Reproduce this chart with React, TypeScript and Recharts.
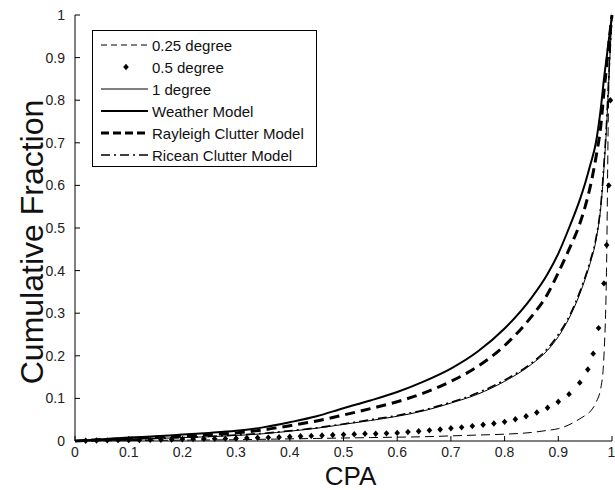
import { LineChart, Line, XAxis, YAxis, Legend, Label } from 'recharts'

// CPA grid shared by the line series
const cpa = [0, 0.05, 0.1, 0.15, 0.2, 0.25, 0.3, 0.35, 0.4, 0.45, 0.5, 0.55, 0.6, 0.65, 0.7, 0.75, 0.8, 0.85, 0.88, 0.9, 0.92, 0.94, 0.95, 0.96, 0.97, 0.98, 0.985, 0.99, 0.993, 0.996, 1]

const quarterDeg = [0, 0.0005, 0.001, 0.0015, 0.002, 0.0025, 0.003, 0.004, 0.005, 0.006, 0.007, 0.008, 0.009, 0.01, 0.012, 0.014, 0.016, 0.02, 0.025, 0.029, 0.038, 0.052, 0.06, 0.07, 0.09, 0.13, 0.2, 0.42, 0.75, 0.93, 1]
const oneDeg = [0, 0.002, 0.004, 0.006, 0.008, 0.01, 0.013, 0.017, 0.023, 0.03, 0.039, 0.048, 0.058, 0.071, 0.089, 0.11, 0.14, 0.18, 0.213, 0.245, 0.288, 0.345, 0.38, 0.42, 0.47, 0.56, 0.64, 0.74, 0.82, 0.9, 1]
const weather = [0, 0.004, 0.008, 0.011, 0.015, 0.019, 0.024, 0.032, 0.044, 0.058, 0.077, 0.095, 0.115, 0.14, 0.17, 0.21, 0.264, 0.336, 0.392, 0.44, 0.5, 0.566, 0.605, 0.65, 0.7, 0.79, 0.85, 0.9, 0.93, 0.96, 1]
const rayleigh = [0, 0.003, 0.006, 0.009, 0.012, 0.015, 0.019, 0.026, 0.036, 0.047, 0.061, 0.076, 0.092, 0.113, 0.14, 0.175, 0.224, 0.292, 0.345, 0.395, 0.45, 0.51, 0.55, 0.6, 0.665, 0.75, 0.82, 0.88, 0.92, 0.955, 1]
const ricean = [0, 0.002, 0.004, 0.006, 0.008, 0.011, 0.014, 0.018, 0.024, 0.031, 0.04, 0.05, 0.06, 0.073, 0.091, 0.113, 0.143, 0.183, 0.217, 0.25, 0.292, 0.35, 0.385, 0.425, 0.475, 0.565, 0.65, 0.75, 0.83, 0.905, 1]

// 0.5 degree is drawn as markers only, on its own points
const halfDegCpa = [0.02, 0.04, 0.06, 0.08, 0.1, 0.12, 0.14, 0.16, 0.18, 0.2, 0.22, 0.24, 0.26, 0.28, 0.3, 0.32, 0.34, 0.36, 0.38, 0.4, 0.42, 0.44, 0.46, 0.48, 0.5, 0.52, 0.54, 0.56, 0.58, 0.6, 0.62, 0.64, 0.66, 0.68, 0.7, 0.72, 0.74, 0.76, 0.78, 0.8, 0.82, 0.84, 0.86, 0.88, 0.9, 0.92, 0.94, 0.955, 0.965, 0.975, 0.985, 0.99, 0.994, 0.997]
const halfDegFrac = [0.0005, 0.001, 0.0015, 0.002, 0.002, 0.0025, 0.003, 0.003, 0.0035, 0.004, 0.0045, 0.005, 0.005, 0.0055, 0.006, 0.007, 0.0075, 0.008, 0.009, 0.01, 0.011, 0.012, 0.013, 0.014, 0.015, 0.016, 0.017, 0.017, 0.018, 0.019, 0.021, 0.023, 0.025, 0.027, 0.03, 0.032, 0.035, 0.038, 0.041, 0.045, 0.051, 0.058, 0.067, 0.078, 0.092, 0.11, 0.137, 0.168, 0.205, 0.265, 0.37, 0.46, 0.6, 0.8]

const axisTicks = [0, 0.1, 0.2, 0.3, 0.4, 0.5, 0.6, 0.7, 0.8, 0.9, 1]

const chartData = cpa.map((x, i) => ({
  cpa: x,
  quarter: quarterDeg[i],
  one: oneDeg[i],
  weather: weather[i],
  rayleigh: rayleigh[i],
  ricean: ricean[i],
}))
const halfData = halfDegCpa.map((x, i) => ({ cpa: x, half: halfDegFrac[i] }))

const FONT = 'Arial, "Liberation Sans", Helvetica, sans-serif'

const legendItems = [
  { name: '0.25 degree', width: 1, dash: '6 4', diamond: false },
  { name: '0.5 degree', width: 0, dash: '', diamond: true },
  { name: '1 degree', width: 1, dash: '', diamond: false },
  { name: 'Weather Model', width: 2, dash: '', diamond: false },
  { name: 'Rayleigh Clutter Model', width: 3, dash: '8 4', diamond: false },
  { name: 'Ricean Clutter Model', width: 1.6, dash: '9 4 2 4', diamond: false },
]

const Diamond = (props: any) => {
  const { cx, cy, index } = props
  if (cx == null || cy == null) return <g key={`e-${index}`} />
  return (
    <path
      key={`d-${index}`}
      d={`M${cx},${cy - 3.2}L${cx + 2.8},${cy}L${cx},${cy + 3.2}L${cx - 2.8},${cy}Z`}
      fill="#000"
    />
  )
}

const LegendBox = () => (
  <div
    style={{
      width: 225,
      height: 137,
      boxSizing: 'border-box',
      border: '1px solid #000',
      background: '#fff',
      paddingTop: 3,
      fontFamily: FONT,
      fontSize: 15,
      color: '#111',
    }}
  >
    {legendItems.map((item) => (
      <div key={item.name} style={{ display: 'flex', alignItems: 'center', height: 22, whiteSpace: 'nowrap' }}>
        <svg width={59} height={22} style={{ flex: 'none' }}>
          {item.diamond ? (
            <path d="M33,7.8L35.8,11L33,14.2L30.2,11Z" fill="#000" />
          ) : (
            <line x1={8} y1={11} x2={55} y2={11} stroke="#000" strokeWidth={item.width} strokeDasharray={item.dash || undefined} />
          )}
        </svg>
        <span>{item.name}</span>
      </div>
    ))}
  </div>
)

const fmt = (v: number) => (v === 0 || v === 1 ? String(v) : v.toFixed(1))

export default function App() {
  return (
    <div style={{ position: 'absolute', left: 0, top: 0, background: '#fff' }}>
      <LineChart width={615} height={490} data={chartData} margin={{ top: 15, right: 3, left: 0, bottom: 0 }}>
        <XAxis
          dataKey="cpa"
          type="number"
          domain={[0, 1]}
          ticks={axisTicks}
          tickFormatter={fmt}
          height={49}
          tickSize={-5}
          tickMargin={11}
          stroke="#000"
          tick={{ fill: '#222', fontSize: 14, fontFamily: FONT }}
        >
          <Label
            content={(p: any) => {
              const vb = p.viewBox
              return (
                <text x={vb.x + vb.width / 2 + 7} y={vb.y + 43.5} textAnchor="middle" fontSize={26} fontFamily={FONT} fill="#111">
                  CPA
                </text>
              )
            }}
          />
        </XAxis>
        <XAxis xAxisId="top" dataKey="cpa" type="number" domain={[0, 1]} ticks={axisTicks} orientation="top" height={0} tickSize={-5} tick={false} stroke="#000" />
        <YAxis
          type="number"
          domain={[0, 1]}
          ticks={axisTicks}
          tickFormatter={fmt}
          width={75}
          tickSize={-5}
          tickMargin={15}
          stroke="#000"
          tick={{ fill: '#222', fontSize: 14, fontFamily: FONT }}
        >
          <Label
            content={(p: any) => {
              const vb = p.viewBox
              const cy = vb.y + vb.height / 2 + 14
              return (
                <text x={43} y={cy} transform={`rotate(-90 43 ${cy})`} textAnchor="middle" fontSize={32} fontFamily={FONT} fill="#111">
                  Cumulative Fraction
                </text>
              )
            }}
          />
        </YAxis>
        <YAxis yAxisId="right" type="number" domain={[0, 1]} ticks={axisTicks} orientation="right" width={0} tickSize={-5} tick={false} stroke="#000" />
        <Legend
          layout="horizontal"
          align="center"
          verticalAlign="middle"
          wrapperStyle={{ left: 92, top: 30, width: 225, height: 137 }}
          content={() => <LegendBox />}
        />
        <Line dataKey="quarter" name="0.25 degree" type="monotoneX" stroke="#000" strokeWidth={1} strokeDasharray="9 5" dot={false} isAnimationActive={false} />
        <Line data={halfData} dataKey="half" name="0.5 degree" type="monotoneX" stroke="none" dot={Diamond} activeDot={false} isAnimationActive={false} />
        <Line dataKey="one" name="1 degree" type="monotoneX" stroke="#000" strokeWidth={1} dot={false} isAnimationActive={false} />
        <Line dataKey="weather" name="Weather Model" type="monotoneX" stroke="#000" strokeWidth={2} dot={false} isAnimationActive={false} />
        <Line dataKey="rayleigh" name="Rayleigh Clutter Model" type="monotoneX" stroke="#000" strokeWidth={3} strokeDasharray="10 6" dot={false} isAnimationActive={false} />
        <Line dataKey="ricean" name="Ricean Clutter Model" type="monotoneX" stroke="#000" strokeWidth={1.6} strokeDasharray="9 4 2 4" dot={false} isAnimationActive={false} />
      </LineChart>
    </div>
  )
}
